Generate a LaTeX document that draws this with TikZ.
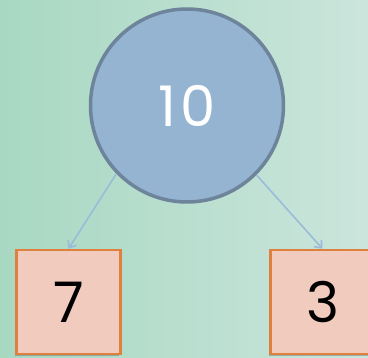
\documentclass[tikz,border=0pt]{standalone}
\usepackage{fontspec}
\setmainfont{Poppins}
\usetikzlibrary{arrows.meta,shadows}
\definecolor{bgL}{HTML}{A8D8C2}
\definecolor{bgR}{HTML}{CBE5DC}
\definecolor{circfill}{HTML}{94B4D2}
\definecolor{circdraw}{HTML}{6D849B}
\definecolor{boxfill}{HTML}{F1CBBE}
\definecolor{boxdraw}{HTML}{E0803E}
\definecolor{arrowc}{HTML}{9ABBD9}
\tikzset{
  rootnode/.style={circle, fill=circfill, draw=circdraw, line width=3.5pt, minimum size=193pt, inner sep=0pt, text=white, font=\fontsize{56}{60}\selectfont\addfontfeature{LetterSpace=8}},
  leafnode/.style={rectangle, fill=boxfill, draw=boxdraw, line width=2.5pt, minimum width=104pt, minimum height=104pt, inner sep=0pt, text=black, font=\fontsize{56}{60}\selectfont, drop shadow={shadow xshift=-1.5pt, shadow yshift=-2pt, opacity=0.35, fill=black!70}},
  link/.style={draw=arrowc, line width=1.6pt, -{Straight Barb[length=6pt,width=10pt]}}
}
\begin{document}
\begin{tikzpicture}[x=1pt,y=-1pt]
\useasboundingbox (0,0) rectangle (368,358);
\clip (0,0) rectangle (368,358);
\shade[left color=bgL, right color=bgR] (0,0) rectangle (368,358);
\node[rootnode] (root) at (187,105.5) {10};
\node[leafnode] (l) at (68.5,302) {7};
\node[leafnode] (r) at (322.5,302) {3};
\draw[link] (root.224) -- (l.north);
\draw[link] (root.315) -- (r.north);
\end{tikzpicture}
\end{document}
